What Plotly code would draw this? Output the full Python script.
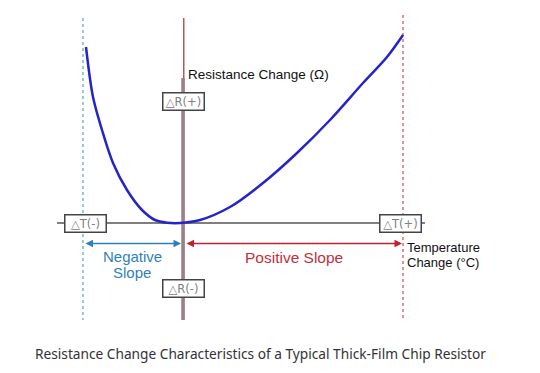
import plotly.graph_objects as go

# Curve data (temperature change vs resistance change, arbitrary units)
temp_change = [-97, -90, -81, -70, -56, -41, -28, -16, -3, 17, 47, 80, 114, 147, 180, 204, 220]
res_change = [176, 126, 93, 60, 33, 13, 3, 0.3, 0, 3, 16, 40, 70, 103, 140, 166, 188]

# Guide positions
t_neg_limit = -100
t_pos_limit = 220
axis_top = 205
axis_bottom = -97
grey_top = 145
h_axis_left = -126
h_axis_right = 242
arrow_y = -20.5

box_labels = ["△T(-)", "△T(+)", "△R(+)", "△R(-)"]
box_pos = [(-98, 0), (217, 0), (0, 121.5), (0, -65)]

fig = go.Figure()

# vertical guide lines
fig.add_trace(go.Scatter(x=[t_neg_limit, t_neg_limit], y=[axis_top, axis_bottom], mode="lines",
                         line=dict(color="#2f9a9a", width=1, dash="dot"), hoverinfo="skip"))
fig.add_trace(go.Scatter(x=[t_pos_limit, t_pos_limit], y=[axis_top + 3, axis_bottom], mode="lines",
                         line=dict(color="#d04858", width=1.2, dash="dot"), hoverinfo="skip"))
# horizontal axis
fig.add_trace(go.Scatter(x=[h_axis_left, h_axis_right], y=[0, 0], mode="lines",
                         line=dict(color="#555555", width=1.5), hoverinfo="skip"))
# vertical axis
fig.add_trace(go.Scatter(x=[0.8, 0.8], y=[axis_top, axis_bottom], mode="lines",
                         line=dict(color="#a03040", width=1.2), hoverinfo="skip"))
fig.add_trace(go.Scatter(x=[0, 0], y=[grey_top, axis_bottom], mode="lines",
                         line=dict(color="#9c8088", width=3.5), hoverinfo="skip"))

# curve
fig.add_trace(go.Scatter(x=temp_change, y=res_change, mode="lines",
                         line=dict(color="#2424c8", width=2.5, shape="spline", smoothing=0.9),
                         hoverinfo="skip"))

lab_font = "Arial, Liberation Sans, sans-serif"
ann = []
# arrows
ann.append(dict(x=-2, y=arrow_y, ax=t_neg_limit + 1, ay=arrow_y, xref="x", yref="y", axref="x", ayref="y",
                text="", showarrow=True, arrowhead=2, startarrowhead=2, arrowside="end+start",
                arrowcolor="#2b7fc0", arrowwidth=1.5, arrowsize=1, startarrowsize=1))
ann.append(dict(x=t_pos_limit - 1, y=arrow_y, ax=2, ay=arrow_y, xref="x", yref="y", axref="x", ayref="y",
                text="", showarrow=True, arrowhead=2, startarrowhead=2, arrowside="end+start",
                arrowcolor="#c0202e", arrowwidth=1.5, arrowsize=1, startarrowsize=1))
# boxes
for lab, (bx, by) in zip(box_labels, box_pos):
    ann.append(dict(x=bx, y=by, xref="x", yref="y", text=lab, showarrow=False,
                    font=dict(family="DejaVu Sans, sans-serif", size=11.5, color="#808080"),
                    bgcolor="white", bordercolor="#444444", borderwidth=1.5, borderpad=1,
                    width=38, height=14))
# texts
ann.append(dict(x=-51, y=-33, xref="x", yref="y", text="Negative", showarrow=False,
                font=dict(family=lab_font, size=15, color="#2f7fc0")))
ann.append(dict(x=-51, y=-49, xref="x", yref="y", text="Slope", showarrow=False,
                font=dict(family=lab_font, size=15, color="#2f7fc0")))
ann.append(dict(x=111, y=-34, xref="x", yref="y", text="Positive Slope", showarrow=False,
                font=dict(family=lab_font, size=15.5, color="#c0303e")))
ann.append(dict(x=3, y=149, xref="x", yref="y", text="Resistance Change (Ω)", showarrow=False,
                xanchor="left", font=dict(family=lab_font, size=13.5, color="#111111")))
ann.append(dict(x=222, y=-24.5, xref="x", yref="y", text="Temperature", showarrow=False,
                xanchor="left", font=dict(family=lab_font, size=13, color="#111111")))
ann.append(dict(x=222, y=-39, xref="x", yref="y", text="Change (°C)", showarrow=False,
                xanchor="left", font=dict(family=lab_font, size=13, color="#111111")))
ann.append(dict(x=0.483, y=-130, xref="paper", yref="y",
                text="Resistance Change Characteristics of a Typical Thick-Film Chip Resistor",
                showarrow=False, font=dict(family="Noto Sans, sans-serif", size=13.7, color="#333333")))

fig.update_layout(
    width=540, height=373,
    margin=dict(l=0, r=0, t=0, b=0),
    paper_bgcolor="white", plot_bgcolor="white",
    showlegend=False,
    xaxis=dict(range=[-183, 357], visible=False, fixedrange=True),
    yaxis=dict(range=[-150, 223], visible=False, fixedrange=True),
    annotations=ann,
)

fig.write_html("out.html", config={"displayModeBar": False},
               post_script="document.body.style.margin='0';document.body.style.padding='0';")
